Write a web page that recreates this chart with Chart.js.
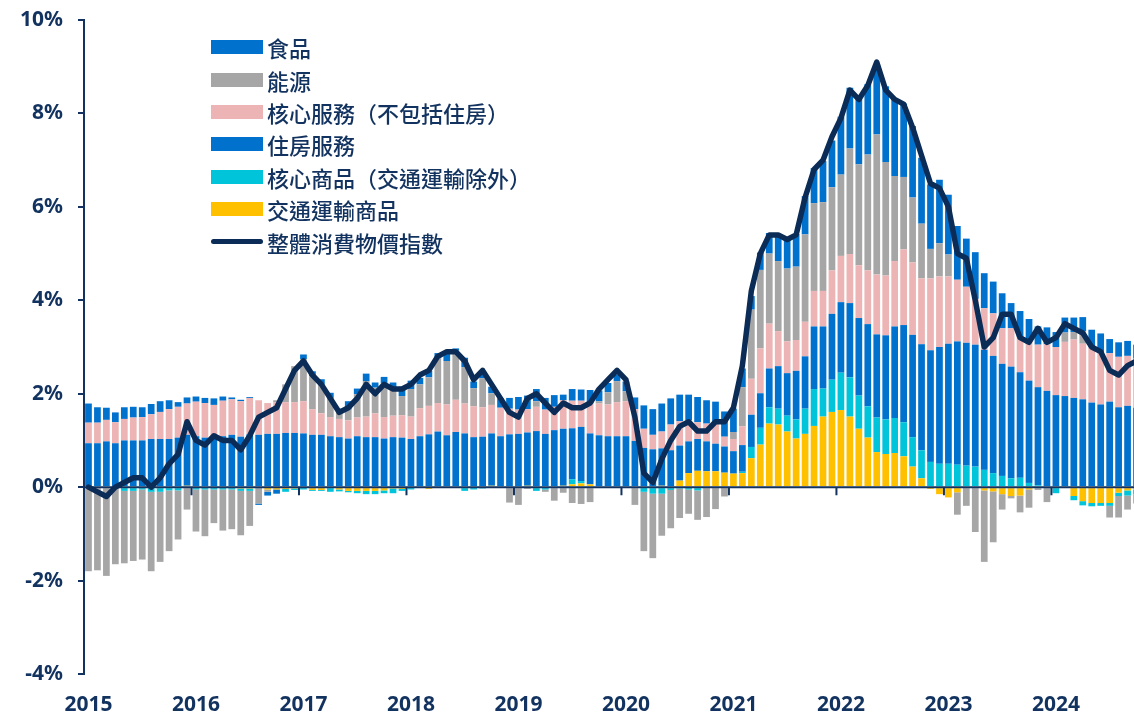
<!DOCTYPE html>
<html>
<head>
<meta charset="utf-8">
<title>CPI contributions</title>
<script src="https://cdn.jsdelivr.net/npm/chart.js@4.4.1/dist/chart.umd.min.js"></script>
<style>
  html, body { margin: 0; padding: 0; background: #fff; overflow: hidden; }
  #wrap { position: relative; width: 1141px; height: 715px; }
  #legend { position: absolute; left: 211px; top: 31px; font-family: "Noto Sans CJK TC", sans-serif; font-size: 22px; font-weight: 500; color: #12325f; }
  .row { height: 32.4px; display: flex; align-items: center; white-space: nowrap; }
  .sw { width: 52px; height: 14px; margin-right: 4px; }
  .ln { width: 52px; height: 5px; border-radius: 3px; margin-right: 4px; }
</style>
</head>
<body>
<div id="wrap">
  <canvas id="cpiChart"></canvas>
  <div id="legend"></div>
</div>
<script>
// months Feb 2015 .. Nov 2024
const months = [];
for (let i = 0; i < 118; i++) {
  const m = (1 + i) % 12;
  const yr = 2015 + Math.floor((1 + i) / 12);
  months.push(yr + '-' + String(m + 1).padStart(2, '0'));
}
const yearLabels = ['2015', '2016', '2017', '2018', '2019', '2020', '2021', '2022', '2023', '2024'];

// contributions, percentage points
const food = [
  .41, .33, .26, .21, .25, .23, .21, .22, .23, .19, .10,
  .13, .11, .11, .14, .09, .04, .03, .02, -.03, -.08, -.09, 0,
  0, .10, .11, .12, .11, .02, .18, .12, .16, .11, .13, .12,
  .20, .18, .14, .14, .11, .20, .05, .20, .14, .15, .14, .20,
  .23, .27, .29, .26, .25, .25, .12, .25, .24, .29, .23, .20,
  .14, .21, .25, .50, .55, .60, .56, .57, .55, .54, .50, .44,
  .54, .50, .40, .29, .37, .44, .57, .61, .70, .82, .75, .88,
  1.00, 1.24, 1.30, 1.41, 1.51, 1.49, 1.62, 1.66, 1.57, 1.53, 1.41, 1.38,
  1.36, 1.28, 1.15, 1.03, 1.00, .75, .68, .75, .54, .55, .46, .39,
  .36, .32, .32, .31, .30, .38, .40, .30, .31, .32, .30
];
const energy = [
  -1.80, -1.78, -1.90, -1.65, -1.55, -1.50, -1.50, -1.70, -1.50, -1.30, -1.05,
  -.48, -.90, -1.00, -.72, -.88, -.85, -.95, -.75, -.33, -.05, .04, .38,
  .77, .90, .70, .61, .41, .20, .23, .50, .76, .55, .73, .59,
  .41, .59, .51, .61, .96, .93, 1.05, .78, .39, .62, .25, 0,
  -.33, -.38, -.04, .12, -.05, -.29, -.12, -.34, -.36, -.32, .05, .26,
  .45, .21, -.38, -1.27, -1.38, -.90, -.82, -.63, -.52, -.63, -.64, -.47,
  -.20, .15, .84, 1.48, 1.68, 1.50, 1.50, 1.56, 1.57, 1.87, 1.88, 1.90,
  1.78, 1.74, 2.26, 2.16, 2.48, 3.00, 2.43, 1.82, 1.55, 1.39, 1.17, .63,
  .71, .47, -.48, -.40, -.96, -1.53, -1.09, -.33, -.05, -.36, -.39, -.06,
  -.30, 0, .20, .16, .27, 0, 0, -.25, -.46, -.30, -.20
];
const coreServices = [
  .44, .44, .46, .45, .46, .49, .50, .53, .58, .64, .66,
  .67, .74, .74, .69, .76, .76, .76, .78, .74, .66, .68, .66,
  .66, .69, .55, .46, .41, .39, .39, .40, .44, .51, .46, .46,
  .48, .48, .60, .61, .61, .66, .69, .64, .66, .63, .61, .61,
  .55, .52, .50, .52, .52, .50, .61, .59, .56, .64, .68, .68,
  .73, .75, .68, .41, .31, .36, .55, .52, .45, .36, .38, .46,
  .21, .26, .40, .77, .96, .96, .75, .68, .66, .74, .76, .76,
  .93, .99, 1.05, 1.13, 1.15, 1.28, 1.28, 1.40, 1.62, 1.55, 1.41, 1.54,
  1.51, 1.44, 1.32, 1.20, .98, .89, .91, .76, .82, .76, .86, .91,
  1.00, 1.03, 1.16, 1.25, 1.19, 1.18, 1.12, 1.04, 1.08, 1.07, 1.05
];
const housing = [
  .94, .94, .98, .94, 1.00, 1.00, 1.00, 1.03, 1.03, 1.03, 1.06,
  1.09, 1.09, 1.06, 1.07, 1.09, 1.12, 1.08, 1.13, 1.12, 1.14, 1.14, 1.16,
  1.16, 1.15, 1.12, 1.12, 1.09, 1.07, 1.04, 1.09, 1.07, 1.07, 1.04, 1.07,
  1.06, 1.03, 1.09, 1.13, 1.19, 1.11, 1.18, 1.15, 1.07, 1.06, 1.12, 1.07,
  1.11, 1.12, 1.14, 1.20, 1.14, 1.20, 1.22, 1.09, 1.16, 1.09, 1.11, 1.09,
  1.09, 1.09, .99, .84, .81, .80, .79, .75, .68, .68, .64, .59,
  .56, .48, .57, .69, .74, .83, .91, .91, 1.04, 1.12, 1.34, 1.33,
  1.41, 1.51, 1.59, 1.66, 1.76, 1.78, 1.80, 1.96, 2.08, 2.19, 2.27, 2.39,
  2.50, 2.57, 2.64, 2.63, 2.61, 2.57, 2.51, 2.40, 2.39, 2.26, 2.19, 2.10,
  2.06, 1.97, 1.95, 1.91, 1.88, 1.81, 1.77, 1.83, 1.71, 1.74, 1.70
];
const coreGoods = [
  0, 0, 0, 0, -.08, -.08, -.05, -.10, -.10, -.07, -.07,
  0, -.05, -.05, -.05, -.05, -.05, -.05, -.05, -.02, 0, 0, -.06,
  -.03, -.05, -.02, -.02, -.10, -.04, -.03, -.05, -.07, -.07, -.06, -.10,
  -.04, -.05, 0, 0, 0, 0, 0, -.08, -.05, -.03, 0, 0,
  0, 0, 0, -.08, -.05, 0, 0, .11, .05, 0, 0, 0,
  0, 0, 0, -.10, -.14, -.14, -.06, -.03, -.05, -.07, 0, 0,
  0, 0, .03, .24, .36, .35, .34, .34, .41, .54, .79, .60,
  .69, .80, .84, .71, .67, .74, .74, .75, .73, .63, .60, .54,
  .50, .50, .48, .46, .44, .37, .30, .24, .19, .20, .09, .04,
  -.02, -.13, 0, -.09, -.09, -.07, -.06, -.06, -.07, -.11, -.10
];
const transportGoods = [
  0, 0, 0, 0, 0, 0, 0, 0, 0, 0, 0,
  .03, 0, 0, 0, 0, 0, -.03, -.03, 0, -.05, -.05, -.04,
  -.03, 0, -.06, -.06, 0, -.05, -.08, -.08, -.08, -.08, -.07, -.03,
  -.04, 0, 0, -.04, 0, 0, 0, 0, 0, .02, .03, .02,
  .02, .02, .03, 0, 0, .02, .03, .06, .08, .06, 0, 0,
  0, 0, 0, 0, 0, .03, 0, .14, .30, .35, .34, .34,
  .31, .29, .30, .62, .91, 1.36, 1.34, 1.19, 1.04, 1.14, 1.31, 1.51,
  1.61, 1.65, 1.51, 1.25, 1.06, .75, .71, .73, .66, .44, .19, -.04,
  -.15, -.22, -.11, 0, 0, -.07, -.09, -.15, -.19, -.18, -.05, 0,
  0, 0, 0, -.19, -.30, -.34, -.34, -.34, -.12, -.07, -.05
];
// headline CPI, % y/y
const headline = [
  0.0, -0.1, -0.2, 0.0, 0.1, 0.2, 0.2, 0.0, 0.2, 0.5, 0.7,
  1.4, 1.0, 0.9, 1.1, 1.0, 1.0, 0.8, 1.1, 1.5, 1.6, 1.7, 2.1,
  2.5, 2.7, 2.4, 2.2, 1.9, 1.6, 1.7, 1.9, 2.2, 2.0, 2.2, 2.1,
  2.1, 2.2, 2.4, 2.5, 2.8, 2.9, 2.9, 2.7, 2.3, 2.5, 2.2, 1.9,
  1.6, 1.5, 1.9, 2.0, 1.8, 1.6, 1.8, 1.7, 1.7, 1.8, 2.1, 2.3,
  2.5, 2.3, 1.5, 0.3, 0.1, 0.6, 1.0, 1.3, 1.4, 1.2, 1.2, 1.4,
  1.4, 1.7, 2.6, 4.2, 5.0, 5.4, 5.4, 5.3, 5.4, 6.2, 6.8, 7.0,
  7.5, 7.9, 8.5, 8.3, 8.6, 9.1, 8.5, 8.3, 8.2, 7.7, 7.1, 6.5,
  6.4, 6.0, 5.0, 4.9, 4.0, 3.0, 3.2, 3.7, 3.7, 3.2, 3.1, 3.4,
  3.1, 3.2, 3.5, 3.4, 3.3, 3.0, 2.9, 2.5, 2.4, 2.6, 2.7
];

const navy = '#12325f';
const blue = '#0072ce';

function barSet(label, data, color) {
  return {
    type: 'bar', label: label, data: data, backgroundColor: color,
    stack: 'parts', order: 1, borderWidth: 0,
    barPercentage: 0.75, categoryPercentage: 1.0
  };
}

// stacking order bottom -> top
const datasets = [
  barSet('交通運輸商品', transportGoods, '#ffc000'),
  barSet('核心商品（交通運輸除外）', coreGoods, '#00c4da'),
  barSet('住房服務', housing, blue),
  barSet('核心服務（不包括住房）', coreServices, '#ecb4b4'),
  barSet('能源', energy, '#a6a6a6'),
  barSet('食品', food, blue),
  {
    type: 'line', label: '整體消費物價指數', data: headline,
    borderColor: '#0b2c57', borderWidth: 5.5, pointRadius: 0,
    borderJoinStyle: 'round', borderCapStyle: 'round',
    tension: 0, stack: 'cpi', order: 0
  }
];

// zero line + year ticks, drawn under the CPI line
const zeroAxis = {
  id: 'zeroAxis',
  beforeDatasetDraw(chart, args) {
    if (args.meta.type !== 'line') return;
    const xs = chart.scales.x, ys = chart.scales.y, c = chart.ctx;
    const y0 = ys.getPixelForValue(0);
    const step = xs.getPixelForValue(1) - xs.getPixelForValue(0);
    c.save();
    c.strokeStyle = navy;
    c.lineWidth = 2;
    c.beginPath();
    c.moveTo(chart.chartArea.left, y0);
    c.lineTo(chart.chartArea.right, y0);
    months.forEach((m, i) => {
      if (i > 0 && m.slice(5) === '02') {
        const px = xs.getPixelForValue(i) - step / 2;
        c.moveTo(px, y0);
        c.lineTo(px, y0 + 8);
      }
    });
    c.stroke();
    c.restore();
  }
};

const tickFont = { family: '"Noto Sans", sans-serif', size: 21, weight: 'bold' };

const ctx = document.getElementById('cpiChart').getContext('2d');
const cpiChart = new Chart(ctx, {
  data: { labels: months, datasets: datasets },
  options: {
    responsive: true,
    maintainAspectRatio: false,
    animation: false,
    layout: { padding: { top: 20, right: 0, bottom: 0, left: 0 } },
    plugins: { legend: { display: false }, tooltip: { enabled: false } },
    scales: {
      x: {
        stacked: true,
        offset: true,
        grid: { display: false, drawTicks: false },
        border: { display: false },
        ticks: {
          autoSkip: false, maxRotation: 0, minRotation: 0, padding: 18,
          color: navy, font: tickFont,
          callback: (v, i) => {
            const yr = months[i].slice(0, 4);
            return months[i].slice(5) === '02' && yearLabels.includes(yr) ? yr : '';
          }
        },
        afterFit(s) { s.height = 41; s.paddingLeft = 0; s.paddingRight = 0; }
      },
      y: {
        stacked: true,
        min: -4, max: 10,
        ticks: { stepSize: 2, padding: 15, color: navy, font: tickFont, callback: v => v + '%' },
        grid: { drawOnChartArea: false, tickLength: 6, color: navy, lineWidth: 2 },
        border: { color: navy, width: 2 },
        afterFit(s) { s.width = 84; s.paddingTop = 0; s.paddingBottom = 0; }
      }
    }
  },
  plugins: [zeroAxis]
});

// legend, same order as the original
const legendItems = [
  ['食品', blue, 'box'],
  ['能源', '#a6a6a6', 'box'],
  ['核心服務（不包括住房）', '#ecb4b4', 'box'],
  ['住房服務', blue, 'box'],
  ['核心商品（交通運輸除外）', '#00c4da', 'box'],
  ['交通運輸商品', '#ffc000', 'box'],
  ['整體消費物價指數', '#0b2c57', 'line']
];
const lg = document.getElementById('legend');
legendItems.forEach(it => {
  const row = document.createElement('div');
  row.className = 'row';
  const sw = document.createElement('span');
  sw.className = it[2] === 'line' ? 'ln' : 'sw';
  sw.style.background = it[1];
  const tx = document.createElement('span');
  tx.textContent = it[0];
  row.appendChild(sw);
  row.appendChild(tx);
  lg.appendChild(row);
});
</script>
</body>
</html>
